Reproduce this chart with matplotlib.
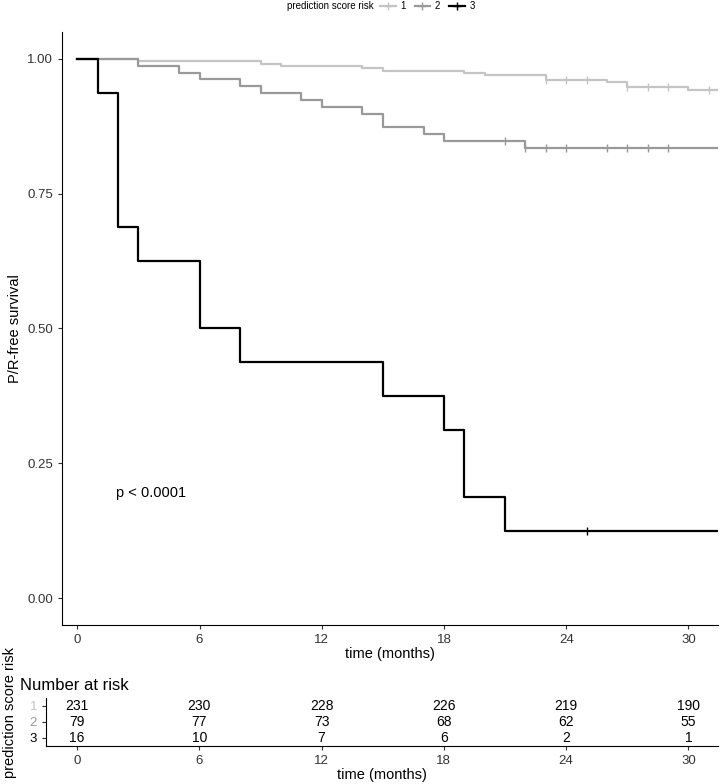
import numpy as np
import matplotlib.pyplot as plt
from matplotlib.lines import Line2D

plt.rcParams['font.family'] = ['Liberation Sans', 'DejaVu Sans']

# Kaplan-Meier step curves (time of step, survival after step)
g1_times = [0, 3, 9, 10, 14, 15, 19, 20, 23, 26, 27, 30]
g1_surv = [1.0, 0.9957, 0.9913, 0.9870, 0.9827, 0.9783, 0.9740, 0.9697,
           0.9610, 0.9567, 0.9480, 0.9430]
g1_censor = [23, 24, 25, 27, 28, 29, 31]

g2_times = [0, 3, 5, 6, 8, 9, 11, 12, 14, 15, 17, 18, 22]
g2_surv = [1.0, 0.9873, 0.9747, 0.9620, 0.9494, 0.9367, 0.9241, 0.9114,
           0.8987, 0.8734, 0.8608, 0.8481, 0.8354]
g2_censor = [21, 22, 23, 24, 26, 27, 28, 29]

g3_times = [0, 1, 2, 3, 6, 8, 15, 18, 19, 21]
g3_surv = [1.0, 0.9375, 0.6875, 0.625, 0.5, 0.4375, 0.375, 0.3125, 0.1875, 0.125]
g3_censor = [25]

groups = ["1", "2", "3"]
colors = ["#c4c4c4", "#999999", "#000000"]

# number at risk table
risk_times = [0, 6, 12, 18, 24, 30]
risk_g1 = [231, 230, 228, 226, 219, 190]
risk_g2 = [79, 77, 73, 68, 62, 55]
risk_g3 = [16, 10, 7, 6, 2, 1]

x_end = 31.45

fig = plt.figure(figsize=(7.2, 7.84), dpi=100)
ax = fig.add_axes([62 / 720, 0.2028, 656 / 720, 0.7564])

curves = [(g1_times, g1_surv, g1_censor), (g2_times, g2_surv, g2_censor),
          (g3_times, g3_surv, g3_censor)]
for (t, s, cens), col in zip(curves, colors):
    tt = list(t) + [x_end]
    ss = list(s) + [s[-1]]
    ax.step(tt, ss, where="post", color=col, lw=1.6)
    idx = np.searchsorted(t, cens, side="right") - 1
    ax.plot(cens, np.array(s)[idx], ls="none", marker="|", ms=6, mew=1,
            color=col)

ax.text(1.9, 0.195, "p < 0.0001", fontsize=10.5, ha="left", va="center")

ax.set_xlim(-0.75, x_end)
ax.set_ylim(-0.05, 1.05)
ax.set_xticks(risk_times)
ax.set_yticks([0, 0.25, 0.5, 0.75, 1.0])
ax.set_yticklabels(["0.00", "0.25", "0.50", "0.75", "1.00"])
ax.tick_params(labelsize=9.5, length=3, color="#333333", labelcolor="#333333")
ax.set_xlabel("time (months)", fontsize=10.5, labelpad=1)
ax.set_ylabel("P/R-free survival", fontsize=10.5, labelpad=4)
for sp in ["top", "right"]:
    ax.spines[sp].set_visible(False)

# legend on top
fig.text(287 / 720, 1 - 6 / 784, "prediction score risk", fontsize=7,
         ha="left", va="center")
handles = [Line2D([], [], color=c, lw=1.6, marker="+", ms=6, mew=1)
           for c in colors]
fig.legend(handles, groups, ncol=3, loc="center left",
           bbox_to_anchor=(380 / 720, 1 - 6 / 784), frameon=False,
           fontsize=7, handlelength=1.6, handletextpad=0.5,
           columnspacing=0.9, borderpad=0, borderaxespad=0)

# risk table (narrower y labels, so its panel starts further left)
tab = fig.add_axes([46 / 720, 0.0485, 672 / 720, 0.0612])
for i, row in enumerate([risk_g1, risk_g2, risk_g3]):
    for t, n in zip(risk_times, row):
        tab.text(t, i + 1, str(n), ha="center", va="center", fontsize=10)
tab.set_xlim(-1.52, x_end)
tab.set_ylim(3.5, 0.5)
tab.set_xticks(risk_times)
tab.set_yticks([1, 2, 3])
tab.set_yticklabels(groups)
for lab, c in zip(tab.get_yticklabels(), colors):
    lab.set_color(c)
tab.tick_params(labelsize=9.5, length=3, color="#333333")
tab.tick_params(axis="x", labelcolor="#333333")
tab.set_xlabel("time (months)", fontsize=10.5, labelpad=1)
for sp in ["top", "right"]:
    tab.spines[sp].set_visible(False)

fig.text(20 / 720, 1 - 686 / 784, "Number at risk", fontsize=12,
         ha="left", va="center")
fig.text(10 / 720, 1 - 712 / 784, "prediction score risk", fontsize=10.5,
         rotation=90, ha="center", va="center")

fig.savefig("out.png", dpi=100)
